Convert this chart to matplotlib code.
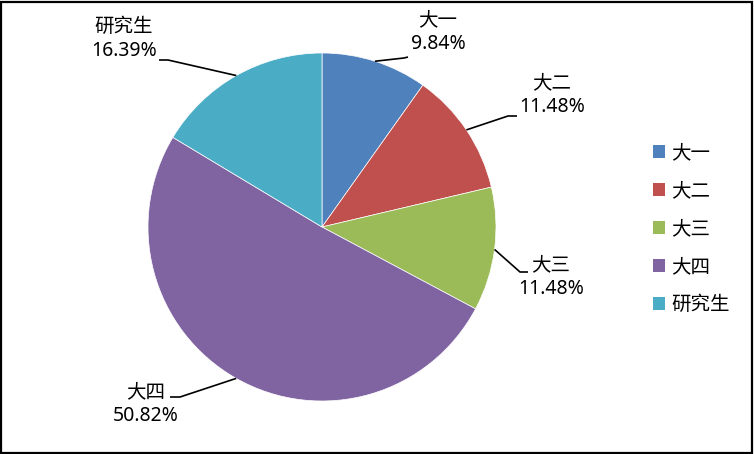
import numpy as np
import matplotlib
matplotlib.use("Agg")
import matplotlib.pyplot as plt
from matplotlib.patches import Patch, Rectangle

plt.rcParams['font.family'] = ['Noto Sans', 'Noto Sans CJK SC', 'DejaVu Sans']

# data
grades = ["大一", "大二", "大三", "大四", "研究生"]
shares = [9.84, 11.48, 11.48, 50.82, 16.39]
colors = ["#4F81BD", "#C0504D", "#9BBB59", "#8064A2", "#4BACC6"]

# label layout in pixels (text centre, elbow, end of leader)
label_xy = [(438, 32), (552, 95), (551, 277), (146, 404), (124, 39)]
elbows = [(404, 58), (508, 116), (520, 272), (180, 397), (168, 60)]
ends = [(408, 57), (517, 116), (528, 272), (170, 397), (159, 60)]

W, H = 754, 454
fig = plt.figure(figsize=(W / 100, H / 100), dpi=100)
ax = fig.add_axes([0, 0, 1, 1])

cx, cy, r = 322, H - 227, 174
wedges, _ = ax.pie(shares, colors=colors, startangle=90, counterclock=False,
                   center=(cx, cy), radius=r,
                   wedgeprops=dict(edgecolor="white", linewidth=0.5))
ax.set_xlim(0, W)
ax.set_ylim(0, H)
ax.set_aspect("equal")
ax.axis("off")

for w, name, val, (tx, ty), (ex, ey), (fx, fy) in zip(
        wedges, grades, shares, label_xy, elbows, ends):
    mid = np.deg2rad((w.theta1 + w.theta2) / 2)
    ax_ = cx + r * np.cos(mid)
    ay_ = cy + r * np.sin(mid)
    ax.plot([ax_, ex, fx], [ay_, H - ey, H - fy], color="black", lw=1.2,
            solid_capstyle="butt", zorder=5)
    ax.text(tx, H - ty, f"{name}\n{val:.2f}%", ha="center", va="center",
            fontsize=14, linespacing=1.25, color="black")

handles = [Patch(facecolor=c, edgecolor="none") for c in colors]
leg = ax.legend(handles, grades, loc="upper left",
                bbox_to_anchor=(643 / W, 1 - 134 / H), frameon=False,
                fontsize=14, handlelength=0.65, handleheight=0.65,
                handletextpad=0.3, labelspacing=0.92, borderpad=0)

fig.patches.append(Rectangle((0.001, 0.002), 0.996, 0.994, transform=fig.transFigure,
                             fill=False, edgecolor="black", linewidth=1.6))

fig.savefig("out.png", dpi=100)
